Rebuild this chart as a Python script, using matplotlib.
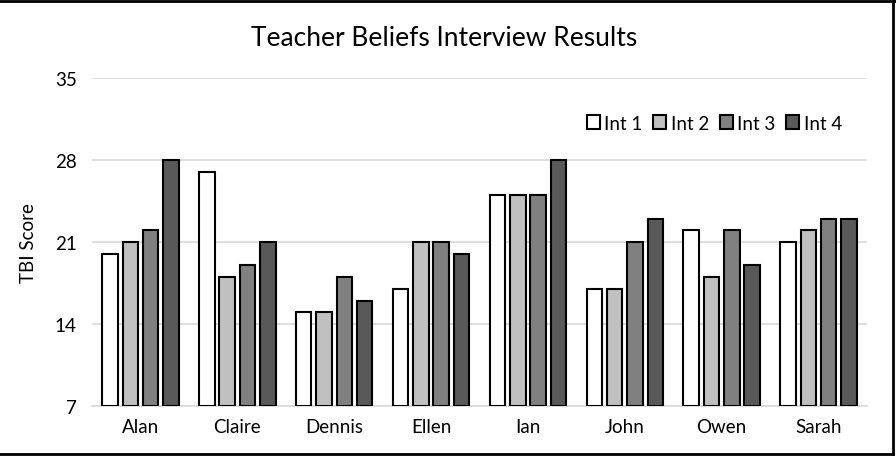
import matplotlib
matplotlib.use("Agg")
import matplotlib.pyplot as plt
import numpy as np
from matplotlib.lines import Line2D

plt.rcParams['font.family'] = ['Lato', 'DejaVu Sans']

teachers = ["Alan", "Claire", "Dennis", "Ellen", "Ian", "John", "Owen", "Sarah"]
int1 = [20, 27, 15, 17, 25, 17, 22, 21]
int2 = [21, 18, 15, 21, 25, 17, 18, 22]
int3 = [22, 19, 18, 21, 25, 21, 22, 23]
int4 = [28, 21, 16, 20, 28, 23, 19, 23]
series_names = ["Int 1", "Int 2", "Int 3", "Int 4"]
yticks = [7, 14, 21, 28, 35]

series = [int1, int2, int3, int4]
colors = ["#FFFFFF", "#C0C0C0", "#808080", "#595959"]

W, H = 896, 460
fig = plt.figure(figsize=(W / 100, H / 100), dpi=100)
ax = fig.add_axes([92 / W, 1 - 407 / H, (867 - 92) / W, (407 - 79) / H])

x = np.arange(len(teachers))
pitch = 0.21
width = 0.16
for i, (vals, c, name) in enumerate(zip(series, colors, series_names)):
    ax.bar(x + (i - 1.5) * pitch, np.array(vals) - 7, bottom=7, width=width,
           color=c, edgecolor="black", linewidth=1.5, label=name, zorder=3)

ax.set_xlim(-0.5, len(teachers) - 0.5)
ax.set_ylim(7, 35)
ax.set_yticks(yticks)
ax.set_yticklabels([str(t) for t in yticks], fontsize=13.5)
ax.set_xticks(x)
ax.set_xticklabels(teachers, fontsize=13.5)
ax.tick_params(length=0, pad=11, axis="y")
ax.tick_params(length=0, pad=9, axis="x")
ax.grid(axis="y", color="#D9D9D9", linewidth=1.2, zorder=0)
for s in ["top", "right", "left"]:
    ax.spines[s].set_visible(False)
ax.spines["bottom"].set_color("#D9D9D9")
ax.spines["bottom"].set_linewidth(1.2)
ax.set_ylabel("TBI Score", fontsize=13.5)
ax.yaxis.set_label_coords((37 - 92) / (867 - 92), 0.5)

fig.text(444 / W, 1 - 38 / H, "Teacher Beliefs Interview Results", fontsize=19,
         ha="center", va="center")

leg = ax.legend(loc="center right", bbox_to_anchor=((842 - 92) / (867 - 92), (407 - 124) / (407 - 79)),
                ncol=4, frameon=False, borderaxespad=0, borderpad=0,
                fontsize=13.5, handlelength=0.7, handleheight=0.7, handletextpad=0.25,
                columnspacing=0.55)

# figure border
fig.add_artist(Line2D([0, 1], [1 - 2 / H, 1 - 2 / H], transform=fig.transFigure, color="black", lw=2))
fig.add_artist(Line2D([0, 893 / W], [1 - 455 / H, 1 - 455 / H], transform=fig.transFigure, color="black", lw=2))
fig.add_artist(Line2D([893 / W, 893 / W], [1 - 455 / H, 1 - 2 / H], transform=fig.transFigure, color="black", lw=2))

fig.savefig("out.png", dpi=100)
